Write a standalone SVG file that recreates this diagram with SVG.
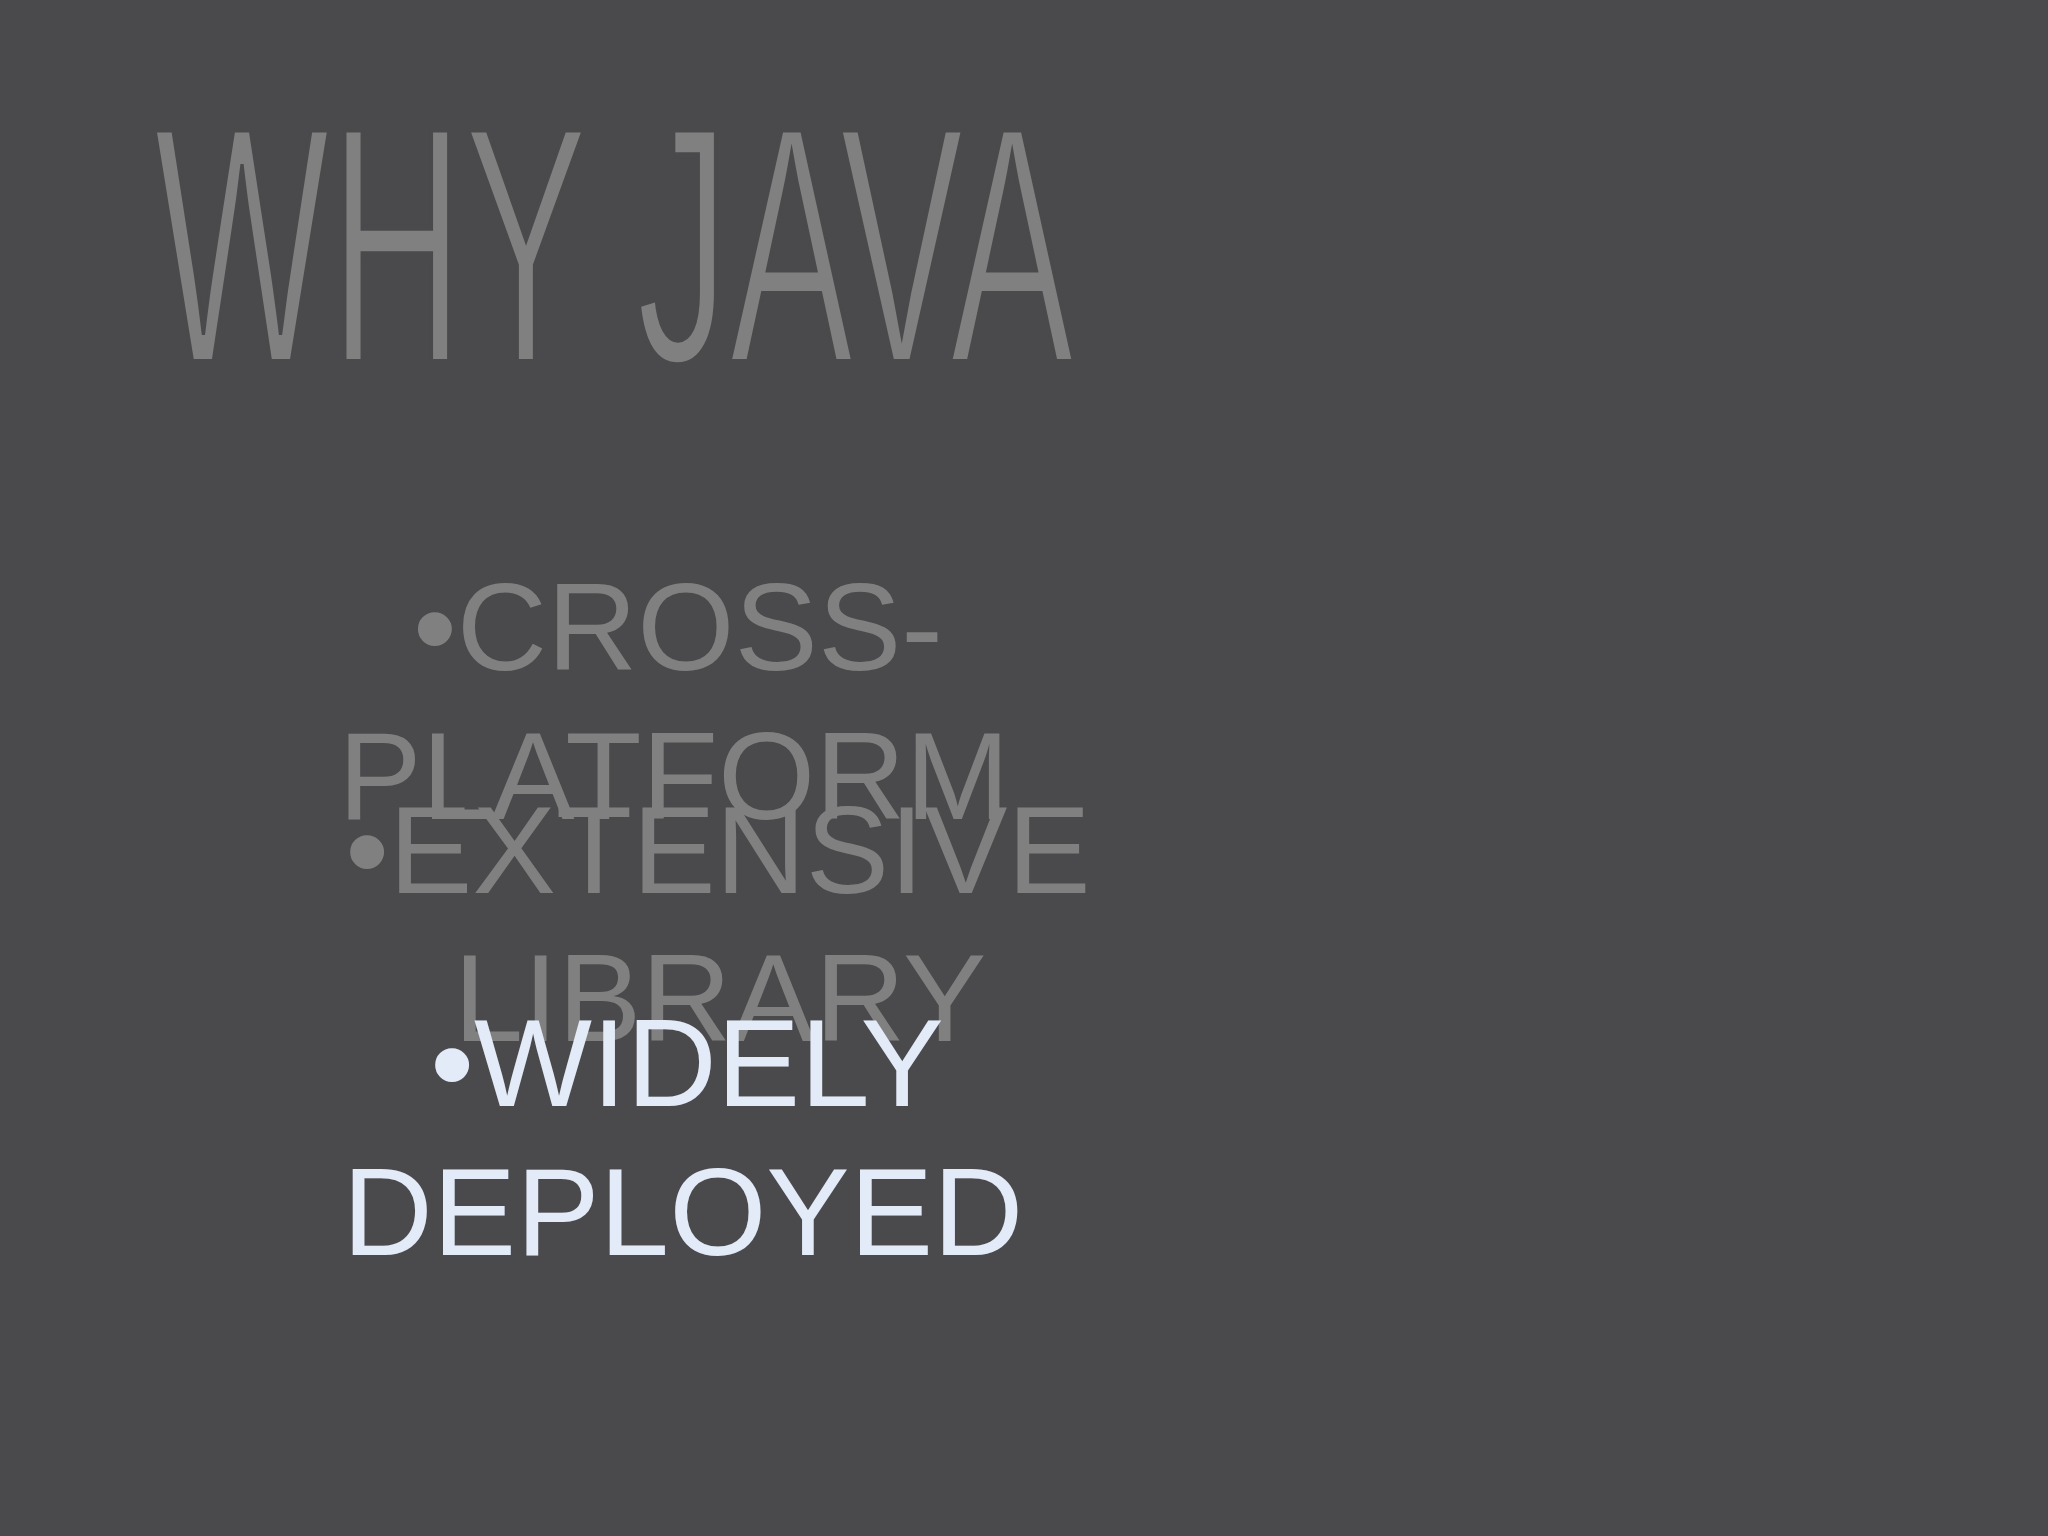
<svg xmlns="http://www.w3.org/2000/svg" width="2048" height="1536" viewBox="0 0 2048 1536">
<style>
.t{font-family:"Liberation Sans",Arial,sans-serif;font-size:125px;text-anchor:middle}
.g{fill:#808080}
.w{fill:#e3ebf9}
</style>
<rect width="2048" height="1536" fill="#4a4a4c"/>
<g id="title"><text x="154" y="362" font-family="'Liberation Sans',Arial,sans-serif" font-size="338" fill="#808080" textLength="920" lengthAdjust="spacingAndGlyphs" style="stroke:#4a4a4c;stroke-width:6px">WHY JAVA</text></g>
<g id="bullet1"><text class="t g" x="678" y="670">•CROSS-</text><text class="t g" x="674" y="819">PLATFORM</text></g>
<g id="bullet2"><text class="t g" x="718" y="893">•EXTENSIVE</text><text class="t g" x="720" y="1041">LIBRARY</text></g>
<g id="bullet3"><text class="t w" x="687" y="1106">•WIDELY</text><text class="t w" x="683" y="1255">DEPLOYED</text></g>
</svg>
